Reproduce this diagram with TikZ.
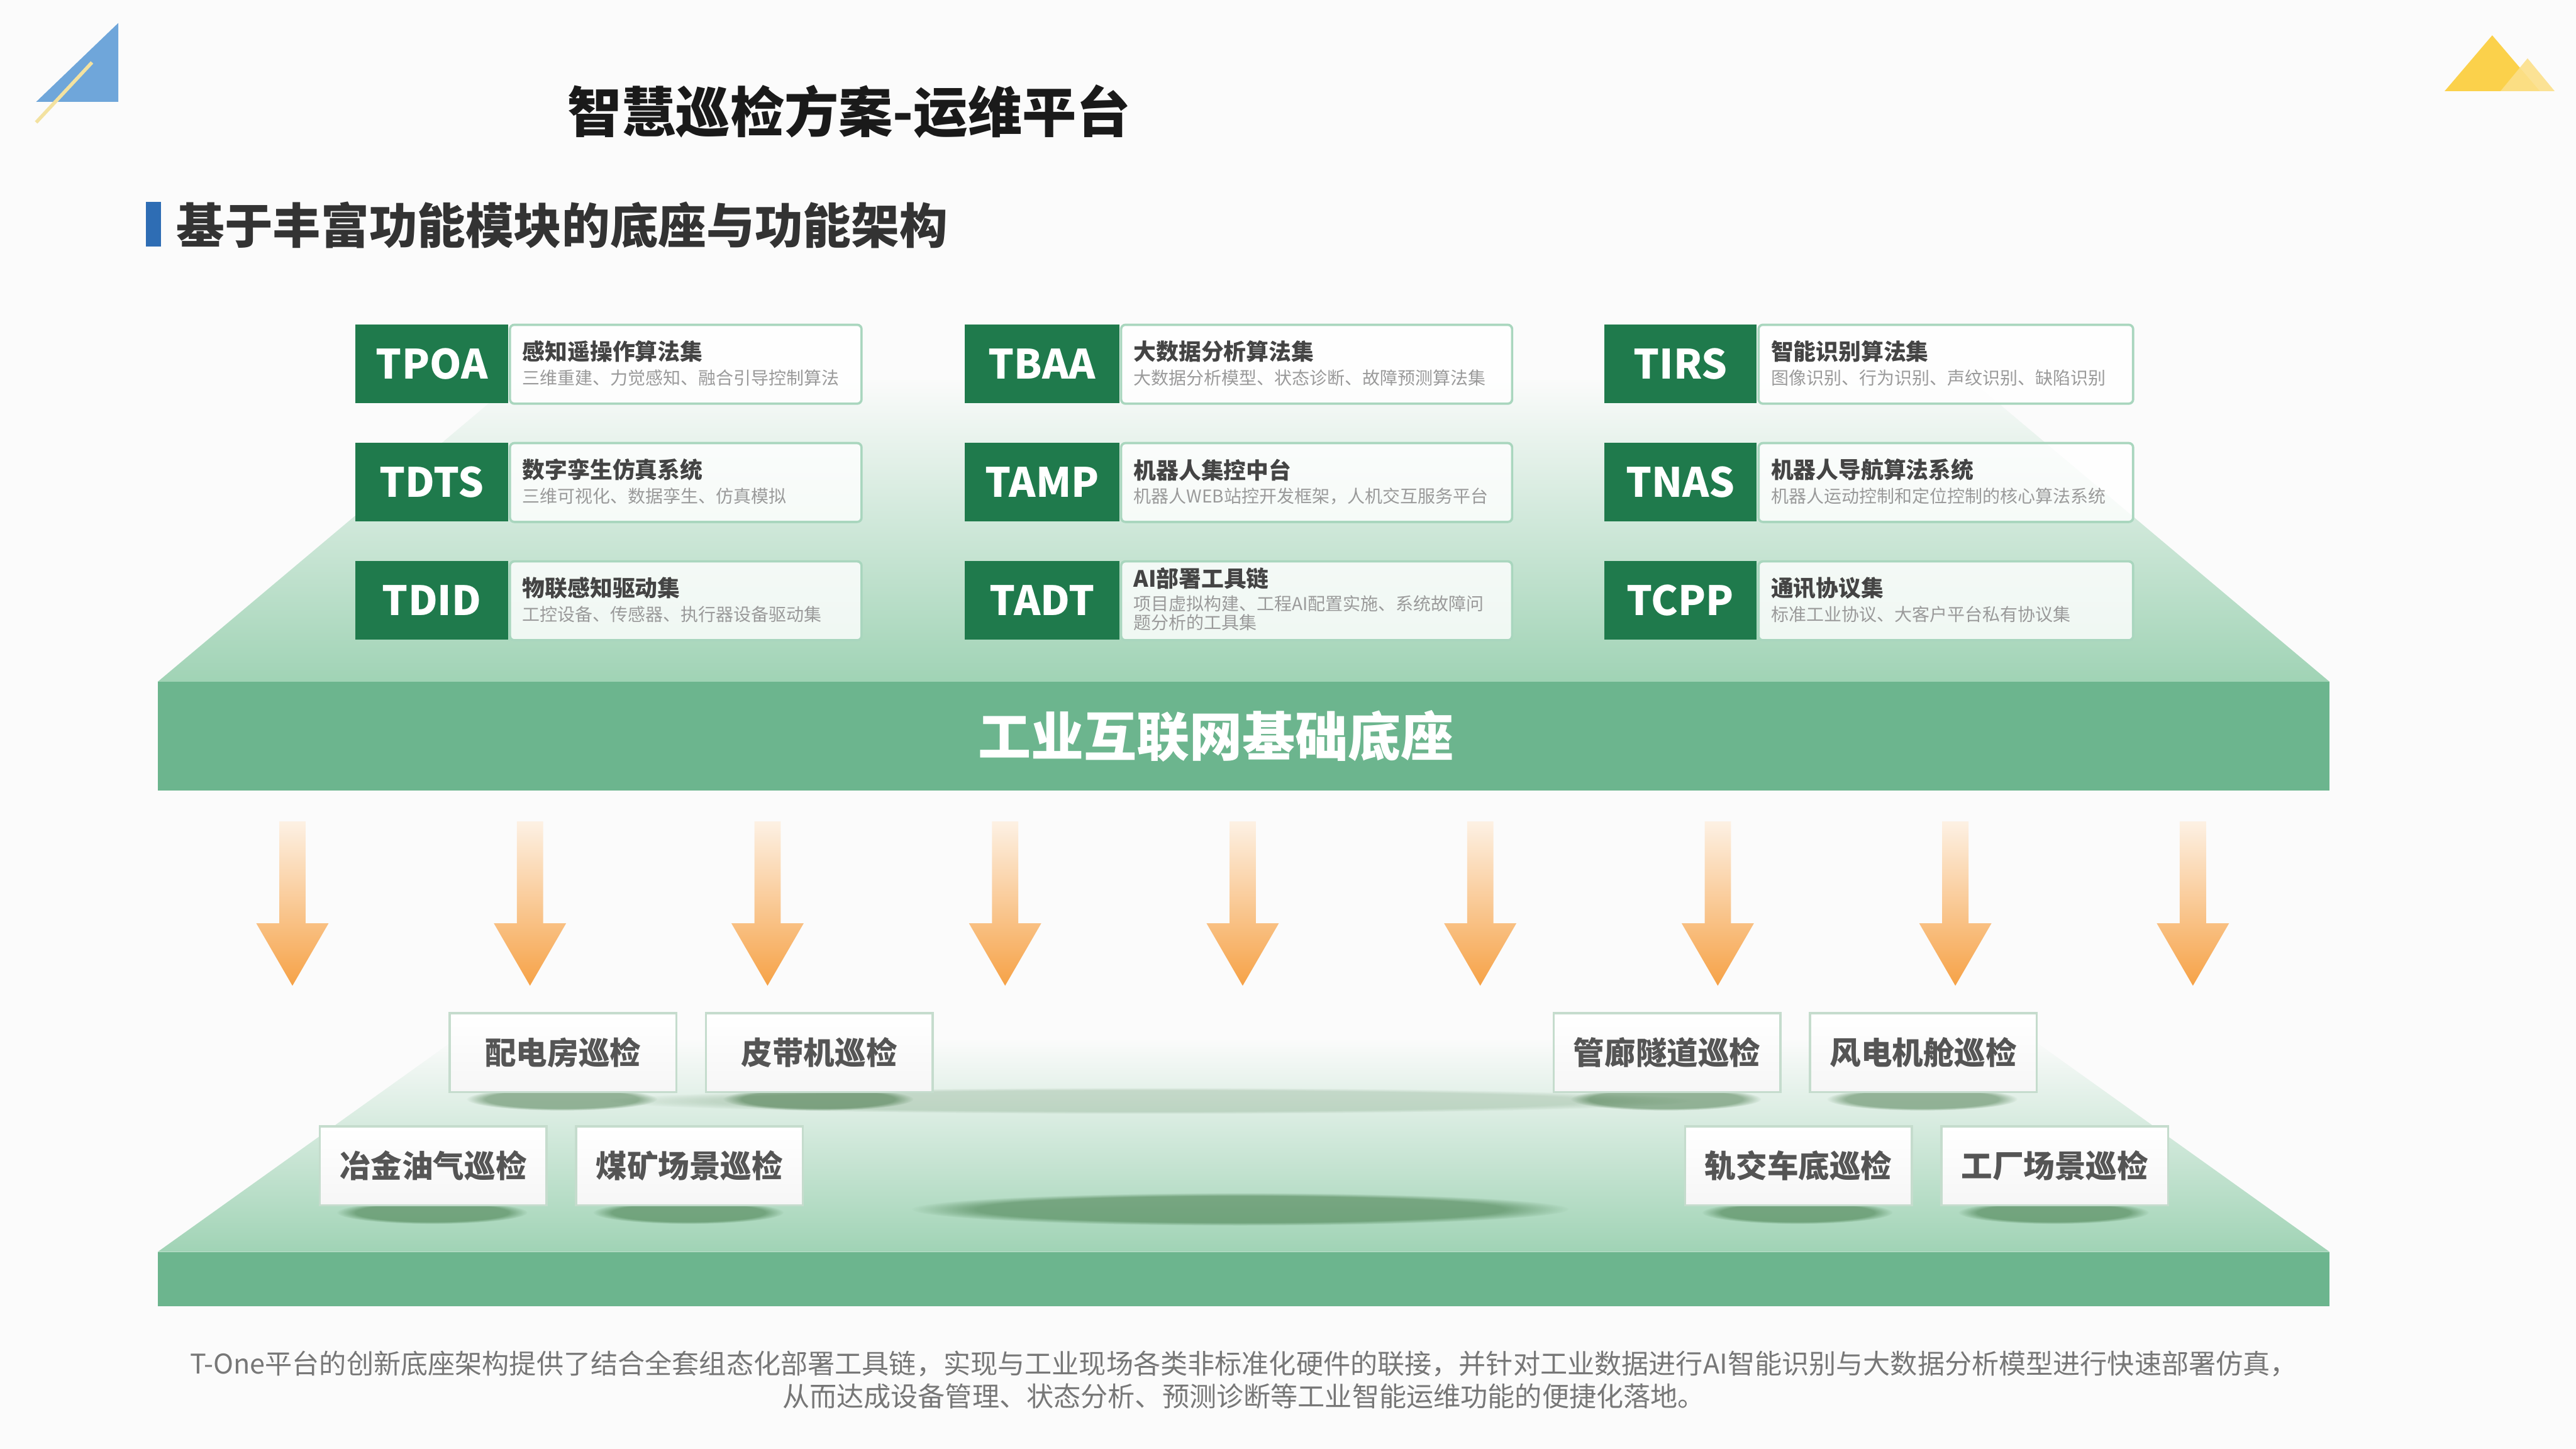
\documentclass[tikz,border=0pt]{standalone}
\usepackage{fontspec}
\setmainfont{Noto Sans CJK SC}
\usetikzlibrary{fadings}
\definecolor{bgc}{HTML}{FBFBFB}
\definecolor{tgreen}{HTML}{1F7A4C}
\definecolor{wborder}{HTML}{A9D6BE}
\definecolor{frontc}{HTML}{6CB58E}
\definecolor{topc}{HTML}{A0D3B5}
\definecolor{orangec}{HTML}{F6A247}
\definecolor{orangetop}{HTML}{FDF1E4}
\definecolor{titlec}{HTML}{1A1A1A}
\definecolor{subc}{HTML}{333333}
\definecolor{barc}{HTML}{2E6DB4}
\definecolor{mtc}{HTML}{444444}
\definecolor{msc}{HTML}{9A9A9A}
\definecolor{btc}{HTML}{777777}
\definecolor{itc}{HTML}{555555}
\definecolor{iborder}{HTML}{C5DCCD}
\definecolor{triblue}{HTML}{6FA6DA}
\definecolor{triyel}{HTML}{F3E2A0}
\definecolor{gold}{HTML}{FBD14B}
\definecolor{goldlt}{HTML}{FCE08A}
\newcommand\pxu{0.02cm}
\tikzset{
  lab/.style={fill=tgreen, text=white, font=\fontsize{14pt}{16pt}\selectfont\bfseries,
    minimum height=48*\pxu, inner sep=0pt, anchor=north west},
  wbox/.style={draw=wborder, line width=0.8pt, fill=white, fill opacity=0.82,
    minimum height=48*\pxu, inner sep=0pt, anchor=north west, rounded corners=1.5pt},
  mtitle/.style={text=mtc, font=\fontsize{7.8pt}{9pt}\selectfont\bfseries, inner sep=0pt, anchor=west},
  msub/.style={text=msc, font=\fontsize{6.1pt}{6.6pt}\selectfont, inner sep=0pt, anchor=west, align=left},
  ibox/.style={draw=iborder, line width=0.8pt, top color=white, bottom color=white!93!gray,
    minimum width=138*\pxu, minimum height=48*\pxu, inner sep=0pt, anchor=north west,
    text=itc, font=\fontsize{10.8pt}{12pt}\selectfont\bfseries},
  shadowc/.style={fill=green!25!black, opacity=0.35, path fading=circle with fuzzy edge 20 percent},
  softband/.style={fill=green!25!black, opacity=0.14, path fading=circle with fuzzy edge 20 percent},
  arrowc/.style={top color=orangetop, bottom color=orangec, draw=none},
}
\newcommand{\modbox}[7]{%
  \node[lab, minimum width=#3*\pxu] (#1L) at (#2) {#4};
  \node[wbox, minimum width=#5*\pxu] (#1W) at (#1L.north east) {};
  \node[mtitle] (#1T) at ([xshift=8*\pxu, yshift=-17*\pxu]#1W.north west) {#6};
  \node[msub] (#1S) at ([xshift=8*\pxu, yshift=-33*\pxu]#1W.north west) {#7};
}
\newcommand{\flowarrow}[2]{%
  \shade[arrowc] (#1-8,500) -- (#1+8,500) -- (#1+8,562) -- (#1+22,562) -- (#1,600)
     -- (#1-22,562) -- (#1-8,562) -- cycle;
  \coordinate (#2) at (#1,600);
}
\begin{document}
\begin{tikzpicture}[x=0.02cm,y=-0.02cm]
\useasboundingbox (0,0) rectangle (1568,882);
\fill[bgc] (0,0) rectangle (1568,882);

% corner decorations
\fill[triblue] (22,62) -- (72,14) -- (72,62) -- cycle;
\draw[triyel, line width=1.2pt] (22,74.5) -- (56,38);
\fill[gold] (1488,55.5) -- (1517,21.5) -- (1546,55.5) -- cycle;
\fill[goldlt, fill opacity=0.9] (1522,55.5) -- (1538.5,35.5) -- (1555,55.5) -- cycle;

% titles
\node[text=titlec, font=\fontsize{18.8pt}{20pt}\selectfont\bfseries, anchor=west, inner sep=0pt]
  (title) at (345,68) {智慧巡检方案-运维平台};
\fill[barc] (89,123) rectangle (98,150);
\node[text=subc, font=\fontsize{16.7pt}{18pt}\selectfont\bfseries, anchor=west, inner sep=0pt]
  (subtitle) at (107,137) {基于丰富功能模块的底座与功能架构};

% upper platform
\shade[top color=bgc, bottom color=topc] (316,230) -- (1198,230) -- (1418,415) -- (96,415) -- cycle;
\fill[frontc] (96,415) rectangle (1418,481);
\node[text=white, font=\fontsize{18.3pt}{20pt}\selectfont\bfseries, inner sep=0pt]
  (base) at (740,448) {工业互联网基础底座};

% module boxes
\modbox{tpoa}{216,197}{93}{TPOA}{214}{感知遥操作算法集}{三维重建、力觉感知、融合引导控制算法}
\modbox{tbaa}{587,197}{94}{TBAA}{238}{大数据分析算法集}{大数据分析模型、状态诊断、故障预测算法集}
\modbox{tirs}{976,197}{93}{TIRS}{228}{智能识别算法集}{图像识别、行为识别、声纹识别、缺陷识别}
\modbox{tdts}{216,269}{93}{TDTS}{214}{数字孪生仿真系统}{三维可视化、数据孪生、仿真模拟}
\modbox{tamp}{587,269}{94}{TAMP}{238}{机器人集控中台}{机器人WEB站控开发框架，人机交互服务平台}
\modbox{tnas}{976,269}{93}{TNAS}{228}{机器人导航算法系统}{机器人运动控制和定位控制的核心算法系统}
\modbox{tdid}{216,341}{93}{TDID}{214}{物联感知驱动集}{工控设备、传感器、执行器设备驱动集}
\node[lab, minimum width=94*\pxu] (tadtL) at (587,341) {TADT};
\node[wbox, minimum width=238*\pxu] (tadtW) at (tadtL.north east) {};
\node[mtitle] (tadtT) at ([xshift=8*\pxu, yshift=-11*\pxu]tadtW.north west) {AI部署工具链};
\node[msub, anchor=north west] (tadtS) at ([xshift=8*\pxu, yshift=-21*\pxu]tadtW.north west)
  {项目虚拟构建、工程AI配置实施、系统故障问\\题分析的工具集};
\modbox{tcpp}{976,341}{93}{TCPP}{228}{通讯协议集}{标准工业协议、大客户平台私有协议集}

% arrows
\flowarrow{178}{a1}
\flowarrow{322.6}{a2}
\flowarrow{467.2}{a3}
\flowarrow{611.8}{a4}
\flowarrow{756.4}{a5}
\flowarrow{901}{a6}
\flowarrow{1045.6}{a7}
\flowarrow{1190.2}{a8}
\flowarrow{1334.8}{a9}

% lower platform
\shade[top color=bgc, bottom color=topc] (278,632) -- (1236,632) -- (1418,762) -- (96,762) -- cycle;
\fill[frontc] (96,762) rectangle (1418,795);
\fill[softband] (700,670) ellipse (330 and 8);
\fill[shadowc] (755,736) ellipse (200 and 10);

% shadows of inspection boxes
\foreach \x/\y in {273/616,429/616,945/616,1101/616,194/685,350/685,1025/685,1181/685}
  \fill[shadowc] (\x+69,\y+53) ellipse (58 and 7);

% inspection boxes
\node[ibox] (pdf) at (273,616) {配电房巡检};
\node[ibox] (pdj) at (429,616) {皮带机巡检};
\node[ibox] (gls) at (945,616) {管廊隧道巡检};
\node[ibox] (fdj) at (1101,616) {风电机舱巡检};
\node[ibox] (yjy) at (194,685) {冶金油气巡检};
\node[ibox] (mkc) at (350,685) {煤矿场景巡检};
\node[ibox] (gjc) at (1025,685) {轨交车底巡检};
\node[ibox] (gcc) at (1181,685) {工厂场景巡检};

% bottom text
\node[text=btc, font=\fontsize{9.4pt}{11pt}\selectfont, inner sep=0pt] (note1) at (757,830)
  {T-One平台的创新底座架构提供了结合全套组态化部署工具链，实现与工业现场各类非标准化硬件的联接，并针对工业数据进行AI智能识别与大数据分析模型进行快速部署仿真，};
\node[text=btc, font=\fontsize{9.4pt}{11pt}\selectfont, inner sep=0pt] (note2) at (757,850)
  {从而达成设备管理、状态分析、预测诊断等工业智能运维功能的便捷化落地。};
\end{tikzpicture}
\end{document}
